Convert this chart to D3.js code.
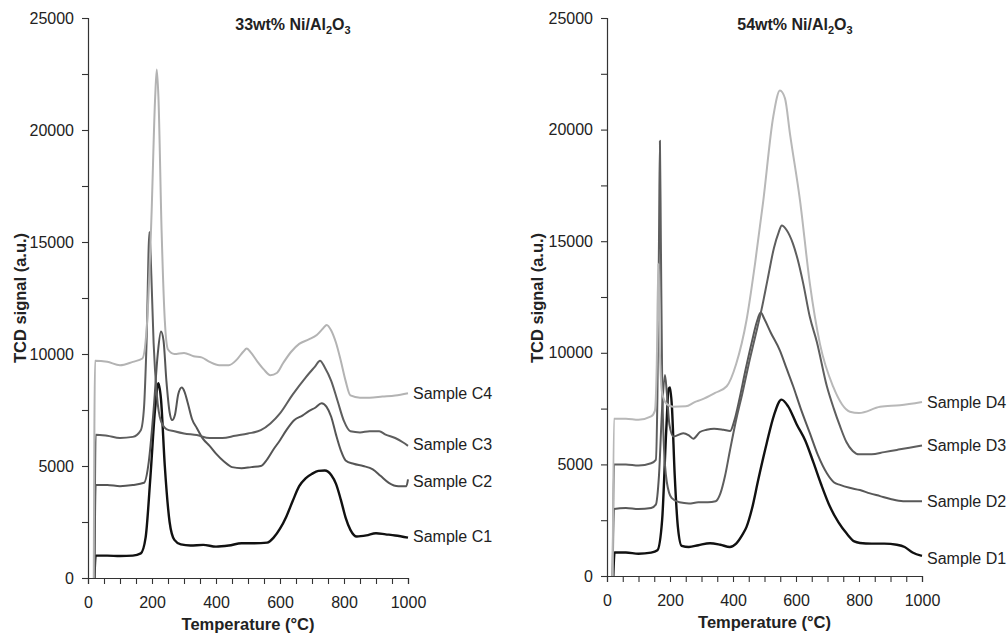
<!DOCTYPE html>
<html>
<head>
<meta charset="utf-8">
<script src="https://cdn.jsdelivr.net/npm/d3@7"></script>
<style>
  body { margin: 0; background: #fff; }
  text { font-family: "Liberation Sans", Arial, sans-serif; fill: #222; }
</style>
</head>
<body>
<div id="main"></div>
<script>
// [temperature (°C), TCD signal (a.u.)]
const sampleC1 = [[20,0],[24,1000],[60,1000],[100,980],[140,1000],[165,1100],[180,1800],[195,4500],[210,7600],[220,8700],[228,8000],[240,5000],[255,2500],[270,1700],[290,1500],[320,1450],[360,1480],[400,1400],[440,1450],[480,1550],[520,1550],[560,1580],[580,1800],[600,2200],[620,2750],[640,3450],[660,4100],[680,4450],[700,4650],[720,4780],[740,4800],[760,4600],[775,4200],[790,3500],[805,2700],[820,2150],[840,1850],[870,1900],[900,2000],[930,1950],[960,1900],[1000,1800]];
const sampleC2 = [[20,0],[24,4150],[60,4150],[100,4100],[140,4150],[175,4250],[190,5200],[205,7500],[218,10000],[228,11000],[236,10600],[245,8800],[255,7400],[263,7050],[272,7300],[282,8200],[293,8500],[302,8300],[312,7800],[325,7100],[340,6700],[360,6200],[380,5900],[400,5550],[425,5200],[450,4950],[480,4900],[510,4950],[540,5000],[560,5300],[580,5750],[600,6150],[620,6600],[645,7050],[670,7250],[690,7450],[710,7600],[730,7800],[745,7650],[760,7200],[775,6400],[790,5700],[805,5250],[830,5100],[860,5000],[890,4850],[915,4550],[940,4250],[970,4100],[995,4100],[1000,4400]];
const sampleC3 = [[20,0],[24,6400],[60,6350],[100,6250],[140,6300],[165,6600],[175,7600],[183,10500],[192,15450],[198,13500],[205,10500],[215,8200],[228,7000],[245,6650],[270,6550],[300,6450],[340,6380],[380,6250],[420,6250],[460,6350],[500,6450],[540,6600],[570,6900],[600,7350],[640,8200],[680,8950],[710,9450],[725,9700],[740,9400],[760,8800],[780,7900],[800,7000],[820,6550],[850,6500],[880,6550],[910,6550],[930,6400],[960,6250],[985,6050],[1000,5900]];
const sampleC4 = [[18,0],[22,9700],[60,9650],[100,9500],[140,9650],[170,9800],[185,11500],[198,16000],[210,21500],[215,22700],[220,21500],[230,15500],[240,11500],[250,10200],[270,10000],[300,10050],[330,9900],[355,9850],[380,9650],[410,9500],[440,9500],[465,9750],[485,10100],[496,10250],[510,10050],[530,9650],[550,9300],[570,9050],[590,9150],[610,9600],[635,10100],[660,10450],[690,10650],[715,10850],[735,11150],[746,11300],[760,11050],[775,10500],[790,9700],[805,8800],[820,8150],[850,8050],[880,8050],[920,8100],[960,8150],[1000,8250]];

const sampleD1 = [[20,0],[24,1050],[60,1050],[100,1000],[140,1050],[160,1150],[175,2500],[188,6500],[196,8400],[200,8450],[206,7600],[215,4500],[225,2200],[237,1350],[260,1300],[290,1380],[327,1470],[360,1400],[390,1300],[410,1450],[430,1850],[443,2200],[460,3000],[480,4300],[507,5950],[530,7200],[554,7900],[575,7600],[602,6800],[630,6050],[655,5100],[680,4100],[708,3100],[735,2400],[761,1900],[785,1550],[803,1480],[840,1450],[880,1450],[920,1400],[945,1300],[970,1050],[1000,900]];
const sampleD2 = [[18,0],[22,3000],[60,3050],[100,3000],[140,3050],[155,3200],[165,4500],[175,7500],[184,9000],[190,8200],[198,6800],[211,6250],[242,6400],[260,6300],[274,6150],[295,6450],[316,6550],[340,6600],[370,6550],[391,6500],[405,7000],[420,7900],[440,9250],[460,10500],[476,11400],[488,11800],[500,11500],[520,10900],[549,10100],[570,9300],[591,8500],[615,7500],[644,6400],[670,5400],[698,4600],[720,4200],[740,4080],[770,3950],[803,3850],[835,3700],[867,3580],[900,3450],[940,3350],[1000,3350]];
const sampleD3 = [[18,0],[22,5000],[60,5000],[100,4950],[140,5050],[155,5200],[160,8000],[165,15000],[168,19500],[171,15000],[175,9000],[180,6000],[190,4200],[205,3500],[230,3300],[260,3250],[290,3300],[320,3300],[345,3350],[360,3700],[375,4500],[390,5600],[410,7000],[430,8200],[450,9500],[470,10700],[490,11900],[510,13300],[530,14700],[545,15400],[555,15700],[570,15500],[590,14900],[605,14200],[623,13100],[644,11600],[666,10500],[698,8500],[720,7500],[740,6700],[760,6000],[780,5600],[800,5450],[840,5450],[880,5550],[920,5650],[960,5750],[1000,5850]];
const sampleD4 = [[18,0],[22,7050],[60,7050],[100,7000],[140,7150],[152,7400],[158,9500],[163,14000],[168,10000],[175,8200],[190,7700],[210,7580],[250,7600],[280,7800],[300,7900],[343,8200],[380,8500],[410,9500],[443,11470],[470,14000],[496,16800],[528,20600],[549,21750],[565,21400],[581,19800],[613,16800],[644,13100],[676,10400],[718,8480],[771,7360],[800,7300],[867,7580],[930,7650],[1000,7800]];

const seriesNamesC = ["Sample C1", "Sample C2", "Sample C3", "Sample C4"];
const seriesNamesD = ["Sample D1", "Sample D2", "Sample D3", "Sample D4"];
const xTicks = [0, 200, 400, 600, 800, 1000];
const yTicks = [0, 5000, 10000, 15000, 20000, 25000];

class TprPanel {
  constructor(svg, config) {
    this.svg = svg;
    this.config = config;
    this.xScale = null;
    this.yScale = null;
    this.margins = this.svg.append('g')
      .attr('transform', `translate(${config.left},${config.top})`);
    this.createScales();
    this.createAxis();
    this.createLine();
    this.render();
  }

  createScales() {
    this.xScale = d3.scaleLinear().domain([0, 1000]).range([0, this.config.width]);
    this.yScale = d3.scaleLinear().domain([0, 25000]).range([this.config.height, 0]);
  }

  createAxis() {
    let c = this.config;
    let xAxis = d3.axisBottom(this.xScale)
      .tickValues(d3.range(0, 1001, 50))
      .tickSize(6).tickPadding(13)
      .tickFormat(d => xTicks.includes(d) ? d : '');
    let yAxis = d3.axisLeft(this.yScale)
      .tickValues(d3.range(0, 25001, 2500))
      .tickSize(6).tickPadding(8)
      .tickFormat(d => yTicks.includes(d) ? d : '');

    let gx = this.margins.append('g')
      .attr('transform', `translate(0,${c.height})`)
      .call(xAxis);
    let gy = this.margins.append('g').call(yAxis);

    [gx, gy].forEach(g => {
      g.select('.domain').attr('stroke', '#333').attr('stroke-width', 1.2);
      g.selectAll('.tick line').attr('stroke', '#333').attr('stroke-width', 1.1);
      g.selectAll('.tick text')
        .attr('font-family', '"Liberation Sans", Arial, sans-serif')
        .attr('font-size', 16).attr('fill', '#222');
    });

    this.margins.append('text')
      .attr('x', c.width / 2 + c.xTitleShift)
      .attr('y', c.height + 52)
      .attr('text-anchor', 'middle')
      .attr('font-size', 16.5).attr('font-weight', 'bold')
      .text('Temperature (°C)');

    this.margins.append('text')
      .attr('transform', `translate(${c.yTitleX},${280}) rotate(-90)`)
      .attr('text-anchor', 'middle')
      .attr('dy', '0.35em')
      .attr('font-size', 16.5).attr('font-weight', 'bold')
      .text('TCD signal (a.u.)');

    let title = this.margins.append('text')
      .attr('x', c.titleX)
      .attr('y', 12)
      .attr('text-anchor', 'middle')
      .attr('font-size', 16).attr('font-weight', 'bold');
    title.append('tspan').text(c.title);
    title.append('tspan').attr('font-size', 11).attr('dy', 4).text('2');
    title.append('tspan').attr('dy', -4).text('O');
    title.append('tspan').attr('font-size', 11).attr('dy', 4).text('3');
  }

  createLine() {
    this.cline = d3.line()
      .curve(d3.curveMonotoneX)
      .x(d => this.xScale(d[0]))
      .y(d => this.yScale(d[1]));
  }

  render() {
    let c = this.config;
    this.margins.selectAll('path.sample')
      .data(c.series)
      .join('path')
      .attr('class', 'sample')
      .attr('fill', 'none')
      .attr('stroke', (d, i) => c.colors[i])
      .attr('stroke-width', (d, i) => i === 0 ? 2.4 : 2)
      .attr('stroke-linejoin', 'round')
      .attr('d', this.cline);

    this.margins.selectAll('text.label')
      .data(c.series)
      .join('text')
      .attr('class', 'label')
      .attr('x', c.width + 5)
      .attr('y', (d, i) => this.yScale(d[d.length - 1][1]) + c.labelShift[i])
      .attr('dy', '0.35em')
      .attr('font-size', 16)
      .text((d, i) => c.names[i]);
  }
}

function main() {
  let svg = d3.select('#main').append('svg')
    .attr('width', 1008).attr('height', 635);

  new TprPanel(svg, {
    left: 88, top: 18, width: 320, height: 560,
    series: [sampleC1, sampleC2, sampleC3, sampleC4],
    names: seriesNamesC,
    colors: ['#111', '#555', '#5e5e5e', '#b3b3b3'],
    labelShift: [-1, 2, -1, 0],
    title: '33wt% Ni/Al', titleX: 205, xTitleShift: 0, yTitleX: -68
  });

  new TprPanel(svg, {
    left: 607, top: 18, width: 315, height: 558,
    series: [sampleD1, sampleD2, sampleD3, sampleD4],
    names: seriesNamesD,
    colors: ['#111', '#585858', '#5e5e5e', '#b8b8b8'],
    labelShift: [2, 0, 0, 0],
    title: '54wt% Ni/Al', titleX: 188, xTitleShift: 0, yTitleX: -70
  });
}

main();
</script>
</body>
</html>
